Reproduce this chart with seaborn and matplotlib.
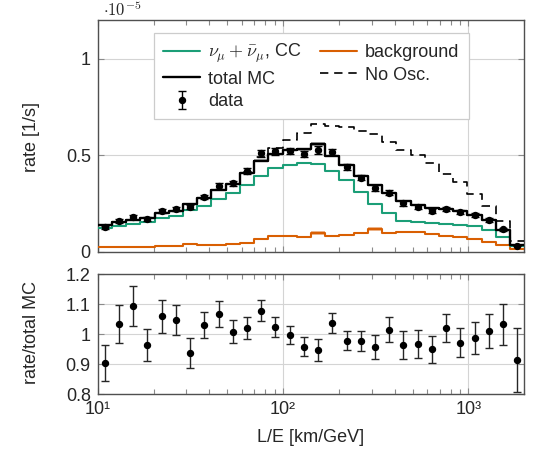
import numpy as np
import matplotlib.pyplot as plt
import seaborn as sns
from matplotlib.lines import Line2D
from matplotlib.ticker import LogLocator, NullFormatter

# 30 log-spaced L/E bins from 10 to 2000 km/GeV
edges = np.geomspace(10, 2000, 31)
centers = np.sqrt(edges[:-1] * edges[1:])

# rates in units of 1e-5 1/s
total_mc_e5 = [0.140, 0.155, 0.165, 0.176, 0.200, 0.213, 0.247, 0.276, 0.320, 0.352,
               0.410, 0.472, 0.507, 0.525, 0.530, 0.557, 0.497, 0.448, 0.392, 0.345,
               0.302, 0.260, 0.241, 0.224, 0.219, 0.210, 0.192, 0.163, 0.112, 0.035]
mc_unc_e5 = [0.003, 0.003, 0.003, 0.003, 0.004, 0.004, 0.004, 0.004, 0.005, 0.005,
             0.005, 0.006, 0.006, 0.006, 0.006, 0.010, 0.006, 0.006, 0.005, 0.005,
             0.005, 0.004, 0.004, 0.004, 0.004, 0.004, 0.004, 0.003, 0.003, 0.002]
signal_e5 = [0.124, 0.133, 0.143, 0.156, 0.172, 0.187, 0.215, 0.237, 0.274, 0.302,
             0.345, 0.390, 0.431, 0.448, 0.460, 0.455, 0.420, 0.373, 0.310, 0.247,
             0.200, 0.160, 0.155, 0.148, 0.143, 0.139, 0.132, 0.113, 0.075, 0.028]
background_e5 = [0.023, 0.023, 0.026, 0.026, 0.030, 0.030, 0.040, 0.033, 0.034, 0.040,
                 0.047, 0.068, 0.079, 0.079, 0.077, 0.098, 0.081, 0.087, 0.095, 0.116,
                 0.098, 0.100, 0.100, 0.092, 0.083, 0.078, 0.068, 0.052, 0.037, 0.016]
bkg_unc_e5 = [0.002, 0.002, 0.002, 0.002, 0.002, 0.002, 0.003, 0.002, 0.002, 0.003,
              0.003, 0.003, 0.004, 0.004, 0.004, 0.010, 0.004, 0.004, 0.005, 0.010,
              0.004, 0.004, 0.004, 0.004, 0.003, 0.003, 0.003, 0.003, 0.002, 0.002]
no_osc_e5 = [0.140, 0.155, 0.165, 0.176, 0.200, 0.213, 0.247, 0.276, 0.320, 0.352,
             0.412, 0.490, 0.535, 0.580, 0.615, 0.660, 0.650, 0.646, 0.625, 0.607,
             0.569, 0.525, 0.503, 0.457, 0.405, 0.360, 0.300, 0.238, 0.160, 0.055]
data_e5 = [0.126, 0.160, 0.180, 0.169, 0.212, 0.223, 0.231, 0.284, 0.341, 0.355,
           0.419, 0.509, 0.519, 0.523, 0.508, 0.527, 0.515, 0.438, 0.383, 0.330,
           0.306, 0.251, 0.233, 0.213, 0.223, 0.204, 0.190, 0.165, 0.116, 0.032]
data_err_e5 = [0.008, 0.010, 0.011, 0.009, 0.011, 0.011, 0.012, 0.012, 0.014, 0.013,
               0.015, 0.016, 0.017, 0.016, 0.016, 0.021, 0.016, 0.014, 0.013, 0.014,
               0.013, 0.012, 0.011, 0.010, 0.010, 0.010, 0.010, 0.009, 0.008, 0.004]

# data / total MC
ratio = [0.903, 1.033, 1.093, 0.963, 1.059, 1.048, 0.937, 1.030, 1.067, 1.008,
         1.021, 1.078, 1.024, 0.997, 0.958, 0.946, 1.037, 0.978, 0.976, 0.957,
         1.014, 0.964, 0.968, 0.949, 1.020, 0.971, 0.988, 1.010, 1.032, 0.913]
ratio_err = [0.059, 0.063, 0.066, 0.053, 0.055, 0.050, 0.049, 0.043, 0.043, 0.038,
             0.037, 0.034, 0.034, 0.031, 0.031, 0.037, 0.032, 0.032, 0.034, 0.040,
             0.042, 0.046, 0.047, 0.046, 0.047, 0.048, 0.053, 0.056, 0.067, 0.106]

xtick_vals = [10, 100, 1000]
xtick_labels = ["10¹", "10²", "10³"]
ytick_top = [0, 0.5, 1]
ytick_top_labels = ["0", "0.5", "1"]
ytick_bot = [0.8, 0.9, 1.0, 1.1, 1.2]
ytick_bot_labels = ["0.8", "0.9", "1", "1.1", "1.2"]

sns.set_theme(style="white")
plt.rcParams['font.family'] = ['Liberation Sans', 'DejaVu Sans']
plt.rcParams['mathtext.fontset'] = 'cm'

pal = sns.color_palette("Dark2")
c_sig, c_bkg = pal[0], pal[1]

W, H = 538, 451
fig = plt.figure(figsize=(W / 100, H / 100), dpi=100)
ax1 = fig.add_axes([97.7 / W, 1 - 251.7 / H, 426.6 / W, 231.7 / H])
ax2 = fig.add_axes([97.7 / W, 1 - 394 / H, 426.6 / W, 120 / H])


def ext(v):
    return list(v) + [v[-1]]


def step(ax, vals, **kw):
    sns.lineplot(x=edges, y=ext(vals), drawstyle='steps-post', estimator=None,
                 sort=False, legend=False, ax=ax, **kw)


def band(ax, vals, unc, color, alpha):
    lo = [v - u for v, u in zip(vals, unc)]
    hi = [v + u for v, u in zip(vals, unc)]
    ax.fill_between(edges, ext(lo), ext(hi), step='post', color=color,
                    alpha=alpha, lw=0, zorder=2)


band(ax1, background_e5, bkg_unc_e5, c_bkg, 0.45)
step(ax1, background_e5, color=c_bkg, linewidth=1.5, zorder=3)
step(ax1, signal_e5, color=c_sig, linewidth=1.5, zorder=3)
step(ax1, no_osc_e5, color='black', linewidth=1.2, linestyle=(0, (5, 3.5)), zorder=4)
band(ax1, total_mc_e5, mc_unc_e5, '0.45', 0.6)
step(ax1, total_mc_e5, color='black', linewidth=1.7, zorder=5)
eb = ax1.errorbar(centers, data_e5, yerr=data_err_e5, fmt='o', color='black',
                  ms=4.3, capsize=2.8, elinewidth=1, capthick=1, zorder=6)

ax2.errorbar(centers, ratio, yerr=ratio_err, fmt='o', color='black', ecolor='0.15',
             ms=4.3, capsize=3, elinewidth=1, capthick=1, zorder=6)

for ax in (ax1, ax2):
    ax.set_xscale('log')
    ax.set_xlim(10, 2000)
    ax.set_xticks(xtick_vals)
    ax.xaxis.set_minor_locator(LogLocator(base=10, subs=np.arange(2, 10), numticks=20))
    ax.xaxis.set_minor_formatter(NullFormatter())
    ax.set_axisbelow(True)
    ax.grid(True, which='major', color='#d4d4d4', lw=0.8)
    ax.tick_params(which='both', direction='in', bottom=True, left=True,
                   top=True, right=True, color='#8a8a8a', labelsize=13, pad=5)
    ax.tick_params(which='major', length=4, width=0.8)
    ax.tick_params(which='minor', length=3.5, width=0.8)
    for s in ax.spines.values():
        s.set_color('#505050')
        s.set_linewidth(1.0)
    ax.set_xlabel('')
    ax.set_ylabel('')

ax1.set_ylim(0, 1.2)
ax1.set_yticks(ytick_top)
ax1.set_yticklabels(ytick_top_labels)
ax1.tick_params(labelbottom=False)

ax2.set_ylim(0.8, 1.2)
ax2.set_yticks(ytick_bot)
ax2.set_yticklabels(ytick_bot_labels)
ax2.set_xticklabels(xtick_labels)

fig.text(311 / W, 1 - 438 / H, "L/E [km/GeV]", fontsize=13, ha='center', va='center')
fig.text(32 / W, 1 - 137 / H, "rate [1/s]", fontsize=13, rotation=90,
         ha='center', va='center')
fig.text(32 / W, 1 - 333 / H, "rate/total MC", fontsize=13, rotation=90,
         ha='center', va='center')
fig.text(103 / W, 1 - 16 / H, r"$\cdot\mathsf{10}^{\mathsf{-5}}$", fontsize=12,
         ha='left', va='baseline')

handles = [
    Line2D([], [], color=c_sig, lw=1.5),
    Line2D([], [], color='black', lw=1.7),
    eb,
    Line2D([], [], color=c_bkg, lw=1.5),
    Line2D([], [], color='black', lw=1.2, linestyle=(0, (5, 3.5))),
]
labels = [r"$\nu_\mu + \bar{\nu}_\mu$, CC", "total MC", "data", "background", "No Osc."]
leg = ax1.legend(handles, labels, ncol=2, loc='upper left',
                 bbox_to_anchor=(0.132, 0.944), borderaxespad=0, fontsize=13,
                 frameon=True, fancybox=False, framealpha=1, edgecolor='#cccccc',
                 handlelength=2.05, handletextpad=0.45, columnspacing=1.0,
                 labelspacing=0.3, borderpad=0.5)
leg.get_frame().set_linewidth(0.9)

fig.savefig("out.png", dpi=100)
